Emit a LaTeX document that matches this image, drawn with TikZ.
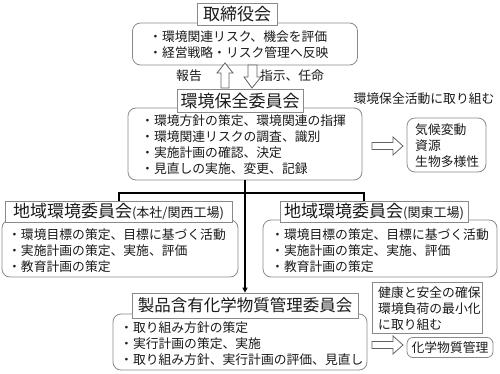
\documentclass[tikz,border=0pt]{standalone}
\usepackage{fontspec}
\setmainfont{Noto Sans CJK JP}
\usetikzlibrary{arrows.meta}
\definecolor{boxgray}{HTML}{8A8A8A}
\definecolor{txtc}{HTML}{1A1A1A}
\tikzset{
  rbox/.style={draw=boxgray, line width=0.8pt, rounded corners=8pt, fill=white, inner sep=0pt},
  tbox/.style={draw=boxgray, line width=0.8pt, fill=white, inner sep=0pt, text=txtc, font=\fontsize{17}{20}\selectfont},
  body/.style={align=left, anchor=west, inner sep=0pt, text=txtc, font=\fontsize{12.8}{16}\selectfont},
  lbl/.style={inner sep=0pt, text=txtc, font=\fontsize{12.8}{16}\selectfont},
  conn/.style={line width=1.3pt, black},
  harrow/.style={draw=boxgray!70!black, fill=white, line width=0.8pt, line join=miter},
}
\begin{document}
\begin{tikzpicture}[x=1pt,y=-1pt]
\useasboundingbox (0,0) rectangle (500,374);
% ---------- Board ----------
\node[rbox, minimum width=225, minimum height=42] (b1) at (245,44) {};
\node[tbox, minimum width=80, minimum height=22] (t1) at (237,14) {取締役会};
\node[body] (b1t) at (149,45) {・環境関連リスク、機会を評価\\・経営戦略・リスク管理へ反映};
% hollow arrows between board and committee
\draw[harrow] (225,63) -- (233,73) -- (229,73) -- (229,88) -- (221,88) -- (221,73) -- (217,73) -- cycle;
\draw[harrow] (252,88) -- (261,77) -- (257,77) -- (257,65) -- (248,65) -- (248,77) -- (244,77) -- cycle;
\node[lbl] (lr) at (189,76) {報告};
\node[lbl] (li) at (292,76) {指示、任命};
% ---------- Environmental committee ----------
\node[rbox, minimum width=234, minimum height=72] (b2) at (245,144) {};
\node[tbox, minimum width=126, minimum height=23] (t2) at (240,101) {環境保全委員会};
\node[body] (b2t) at (141,145) {・環境方針の策定、環境関連の指揮\\・環境関連リスクの調査、識別\\・実施計画の確認、決定\\・見直しの実施、変更、記録};
\node[lbl] (n1) at (424,99) {環境保全活動に取り組む};
\draw[harrow] (403,146) -- (393,137) -- (393,142.5) -- (372,142.5) -- (372,149.5) -- (393,149.5) -- (393,155) -- cycle;
\node[rbox, minimum width=79, minimum height=54] (b3) at (446.5,145) {};
\node[body] (b3t) at (415,145.5) {気候変動\\資源\\生物多様性};
% ---------- Regional committees ----------
\node[rbox, minimum width=236, minimum height=57] (b4) at (120,248.5) {};
\node[tbox, minimum width=227, minimum height=21] (t4) at (118.5,211.5) {地域環境委員会{\fontsize{13}{15}\selectfont (本社/関西工場)}};
\node[body] (b4t) at (8,251) {・環境目標の策定、目標に基づく活動\\・実施計画の策定、実施、評価\\・教育計画の策定};
\node[rbox, minimum width=234, minimum height=57] (b5) at (380,248.5) {};
\node[tbox, minimum width=188, minimum height=21] (t5) at (374,211.5) {地域環境委員会{\fontsize{13}{15}\selectfont (関東工場)}};
\node[body] (b5t) at (271,251) {・環境目標の策定、目標に基づく活動\\・実施計画の策定、実施、評価\\・教育計画の策定};
% ---------- Chemical committee ----------
\node[rbox, minimum width=254, minimum height=56] (b6) at (240,342) {};
\node[tbox, minimum width=226, minimum height=25, font=\fontsize{16.5}{20}\selectfont] (t6) at (245,305.5) {製品含有化学物質管理委員会};
\node[body] (b6t) at (120,344) {・取り組み方針の策定\\・実行計画の策定、実施\\・取り組み方針、実行計画の評価、見直し};
\node[draw=boxgray, line width=0.8pt, fill=white, minimum width=110, minimum height=51, inner sep=0pt] (b7) at (427,307.5) {};
\node[body] (b7t) at (378,308.5) {健康と安全の確保\\環境負荷の最小化\\に取り組む};
\draw[harrow] (403,345) -- (393,336) -- (393,341.5) -- (372,341.5) -- (372,348.5) -- (393,348.5) -- (393,354) -- cycle;
\node[rbox, minimum width=86, minimum height=20, rounded corners=6pt] (b8) at (450,347.5) {};
\node[lbl] (b8t) at (450,347.5) {化学物質管理};
% ---------- Connectors ----------
\coordinate (hl) at (119,193);
\coordinate (hr) at (364,193);
\draw[conn] (t4.north -| hl) -- (hl) -- (hr) -- (t5.north -| hr);
\draw[conn, -{Triangle[length=5pt,width=5pt]}] (b2.south) -- (t6.north);
\end{tikzpicture}
\end{document}
